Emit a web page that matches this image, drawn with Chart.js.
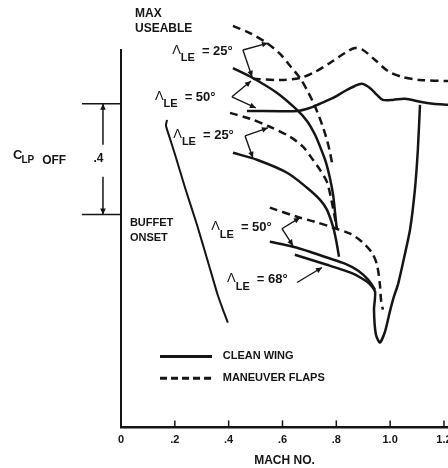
<!DOCTYPE html>
<html>
<head>
<meta charset="utf-8">
<script src="https://cdn.jsdelivr.net/npm/chart.js@4.4.1/dist/chart.umd.min.js"></script>
<style>
  html, body { margin: 0; padding: 0; background: #fff; }
  canvas { display: block; }
</style>
</head>
<body>
<canvas id="chart" width="448" height="468"></canvas>
<script>
// Mach axis ticks
const machTicks = [0, 0.2, 0.4, 0.6, 0.8, 1.0, 1.2];
const machTickLabels = ['0', '.2', '.4', '.6', '.8', '1.0', '1.2'];
const seriesNames = ['CLEAN WING', 'MANEUVER FLAPS'];

// Max useable lift, [Mach, CL]
const maxUse25Clean = [[0.416,1.297],[0.490,1.261],[0.580,1.207],[0.654,1.146],[0.691,1.106],[0.721,1.056],[0.743,1.005],[0.762,0.955],[0.776,0.901],[0.788,0.840],[0.795,0.778],[0.802,0.714]];
const maxUse25Flaps = [[0.416,1.449],[0.479,1.423],[0.542,1.387],[0.591,1.348],[0.628,1.305],[0.665,1.261],[0.691,1.218],[0.713,1.175],[0.732,1.132],[0.750,1.085],[0.765,1.038],[0.776,0.995],[0.786,0.945]];
const maxUse50Clean = [[0.468,1.142],[0.654,1.142],[0.702,1.153],[0.739,1.168],[0.788,1.189],[0.832,1.214],[0.869,1.232],[0.895,1.240],[0.925,1.225],[0.951,1.200],[0.973,1.182],[1.010,1.182],[1.055,1.186],[1.111,1.175],[1.159,1.168],[1.215,1.164]];
const maxUse50Flaps = [[0.490,1.258],[0.591,1.254],[0.665,1.261],[0.721,1.283],[0.776,1.315],[0.832,1.351],[0.869,1.369],[0.899,1.362],[0.944,1.326],[0.992,1.286],[1.044,1.265],[1.111,1.254],[1.215,1.250]];

// Buffet onset lift, [Mach, CL]
const buffet25Clean = [[0.416,0.991],[0.505,0.966],[0.617,0.919],[0.691,0.865],[0.739,0.822],[0.765,0.786],[0.788,0.724],[0.799,0.677],[0.810,0.616]];
const buffet25Flaps = [[0.405,1.135],[0.479,1.114],[0.553,1.085],[0.628,1.049],[0.676,1.013],[0.713,0.966],[0.739,0.930],[0.765,0.886],[0.780,0.829],[0.791,0.775],[0.802,0.721]];
const buffet50Clean = [[0.553,0.670],[0.639,0.652],[0.702,0.634],[0.765,0.613],[0.832,0.591],[0.880,0.566],[0.918,0.533],[0.944,0.497]];
const buffet50Flaps = [[0.553,0.793],[0.654,0.760],[0.721,0.742],[0.788,0.721],[0.851,0.699],[0.895,0.670],[0.932,0.631],[0.951,0.587],[0.962,0.515],[0.966,0.461],[0.973,0.425]];
const buffet68Clean = [[0.646,0.623],[0.765,0.587],[0.862,0.555],[0.918,0.523],[0.944,0.490],[0.940,0.425],[0.947,0.335],[0.962,0.306],[0.981,0.346],[0.999,0.418],[1.014,0.472],[1.029,0.515],[1.048,0.595],[1.074,0.714],[1.092,0.858],[1.103,1.002],[1.111,1.164]];

// Buffet onset boundary line, [Mach, CL]
const buffetOnsetLine = [[0.171,1.110],[0.167,1.090],[0.175,1.063],[0.201,0.984],[0.238,0.865],[0.282,0.732],[0.323,0.598],[0.360,0.476],[0.383,0.414],[0.397,0.378]];

// Sweep labels and their leaders, in [Mach, CL]
const sweepAngles = ['25°', '50°', '25°', '50°', '68°'];
const sweepLabelAt = [[0.190,1.362],[0.126,1.196],[0.194,1.059],[0.335,0.724],[0.394,0.537]];
const sweepLeaders = [
  { from: [0.453,1.362], to: [[0.546,1.387],[0.487,1.265]] },
  { from: [0.412,1.193], to: [[0.483,1.250],[0.501,1.153]] },
  { from: [0.461,1.052], to: [[0.546,1.081],[0.490,0.973]] },
  { from: [0.598,0.717], to: [[0.665,0.757],[0.639,0.656]] },
  { from: [0.654,0.523], to: [[0.747,0.577]] }
];

// Lift-coefficient increment bracket
const clpOffSpan = 0.4;
const clpOffTop = 1.168;

const ink = '#151515';
const FONT = '"Liberation Sans", Arial, Helvetica, sans-serif';

function series(label, pts, dashed, width, tension) {
  return {
    label,
    data: pts.map(([x, y]) => ({ x, y })),
    showLine: true,
    borderColor: ink,
    backgroundColor: ink,
    borderWidth: width,
    borderDash: dashed ? [8, 5] : [],
    pointRadius: 0,
    pointHoverRadius: 0,
    tension,
    fill: false,
    clip: false
  };
}

const datasets = [
  series(seriesNames[0], maxUse25Clean, false, 2.5, 0.3),
  series(seriesNames[1], maxUse25Flaps, true, 2.5, 0.3),
  series(seriesNames[0], maxUse50Clean, false, 2.5, 0.3),
  series(seriesNames[1], maxUse50Flaps, true, 2.5, 0.3),
  series(seriesNames[0], buffet25Clean, false, 2.5, 0.3),
  series(seriesNames[1], buffet25Flaps, true, 2.5, 0.3),
  series(seriesNames[0], buffet50Clean, false, 2.5, 0.3),
  series(seriesNames[1], buffet50Flaps, true, 2.5, 0.3),
  series(seriesNames[0], buffet68Clean, false, 2.5, 0.2),
  series('BUFFET ONSET', buffetOnsetLine, false, 2, 0.2)
];

function arrowHead(ctx, x1, y1, x2, y2) {
  const a = Math.atan2(y2 - y1, x2 - x1);
  const L = 6, W = 2.8;
  ctx.beginPath();
  ctx.moveTo(x2, y2);
  ctx.lineTo(x2 - L * Math.cos(a) + W * Math.sin(a), y2 - L * Math.sin(a) - W * Math.cos(a));
  ctx.lineTo(x2 - L * Math.cos(a) - W * Math.sin(a), y2 - L * Math.sin(a) + W * Math.cos(a));
  ctx.closePath();
  ctx.fill();
}

function arrow(ctx, x1, y1, x2, y2) {
  ctx.beginPath();
  ctx.moveTo(x1, y1);
  ctx.lineTo(x2, y2);
  ctx.stroke();
  arrowHead(ctx, x1, y1, x2, y2);
}

const notesPlugin = {
  id: 'notes',
  afterDraw(chart) {
    const { ctx } = chart;
    const xs = chart.scales.x, ys = chart.scales.y;
    const X = v => xs.getPixelForValue(v);
    const Y = v => ys.getPixelForValue(v);
    ctx.save();
    ctx.strokeStyle = ink;
    ctx.fillStyle = ink;
    ctx.setLineDash([]);

    // inward tick marks on the Mach axis
    ctx.lineWidth = 1.5;
    xs.ticks.forEach(t => {
      const px = X(t.value);
      ctx.beginPath();
      ctx.moveTo(px, Y(0));
      ctx.lineTo(px, Y(0) - 7);
      ctx.stroke();
    });

    // titles
    ctx.textBaseline = 'middle';
    ctx.textAlign = 'left';
    ctx.font = 'bold 12px ' + FONT;
    ctx.fillText('MAX', X(0.052), Y(1.492));
    ctx.fillText('USEABLE', X(0.052), Y(1.438));
    ctx.font = 'bold 11px ' + FONT;
    ctx.fillText('BUFFET', X(0.033), Y(0.739));
    ctx.fillText('ONSET', X(0.033), Y(0.685));

    // sweep labels
    sweepAngles.forEach((ang, i) => {
      const x = X(sweepLabelAt[i][0]), y = Y(sweepLabelAt[i][1]);
      ctx.font = '13px ' + FONT;
      ctx.fillText('Λ', x, y);
      const w1 = ctx.measureText('Λ').width;
      ctx.font = 'bold 11px ' + FONT;
      ctx.fillText('LE', x + w1, y + 8);
      const w2 = ctx.measureText('LE').width;
      ctx.font = 'bold 13px ' + FONT;
      ctx.fillText('= ' + ang, x + w1 + w2 + 7, y + 1);
    });

    // leaders
    ctx.lineWidth = 1.4;
    sweepLeaders.forEach(l => {
      const fx = X(l.from[0]), fy = Y(l.from[1]);
      l.to.forEach(([m, c]) => arrow(ctx, fx, fy, X(m), Y(c)));
    });

    // CL increment bracket
    const bTop = Y(clpOffTop), bBot = Y(clpOffTop - clpOffSpan);
    const bx = X(-0.067);
    ctx.lineWidth = 1.5;
    ctx.beginPath();
    ctx.moveTo(X(-0.145), bTop); ctx.lineTo(X(0), bTop);
    ctx.moveTo(X(-0.145), bBot); ctx.lineTo(X(0), bBot);
    ctx.stroke();
    arrow(ctx, bx, Y(1.020), bx, bTop);
    arrow(ctx, bx, Y(0.905), bx, bBot);
    ctx.font = 'bold 12px ' + FONT;
    ctx.textAlign = 'center';
    ctx.fillText('.' + String(clpOffSpan).split('.')[1], X(-0.0836), Y(0.969));
    ctx.textAlign = 'left';
    ctx.font = 'bold 13px ' + FONT;
    ctx.fillText('C', X(-0.401), Y(0.980));
    ctx.font = 'bold 10px ' + FONT;
    ctx.fillText('LP', X(-0.370), Y(0.964));
    ctx.font = 'bold 12px ' + FONT;
    ctx.fillText('OFF', X(-0.293), Y(0.964));

    // legend
    const legendRows = [[seriesNames[0], []], [seriesNames[1], [7, 4]]];
    const legendY = [0.256, 0.177];
    legendRows.forEach(([name, dash], i) => {
      const y = Y(legendY[i]);
      ctx.lineWidth = 3;
      ctx.setLineDash(dash);
      ctx.beginPath();
      ctx.moveTo(X(0.145), y);
      ctx.lineTo(X(0.338), y);
      ctx.stroke();
      ctx.setLineDash([]);
      ctx.font = 'bold 11px ' + FONT;
      ctx.fillText(name, X(0.378), y);
    });
    ctx.restore();
  }
};

new Chart(document.getElementById('chart'), {
  type: 'scatter',
  data: { datasets },
  options: {
    responsive: false,
    animation: false,
    devicePixelRatio: 1,
    layout: { padding: { left: 121, top: 50, right: 0, bottom: 0 } },
    plugins: { legend: { display: false }, tooltip: { enabled: false } },
    scales: {
      x: {
        type: 'linear',
        min: 0,
        max: 1.215,
        afterBuildTicks: axis => { axis.ticks = machTicks.map(v => ({ value: v })); },
        afterFit: axis => { axis.paddingLeft = 0; axis.paddingRight = 0; },
        ticks: {
          autoSkip: false,
          maxRotation: 0,
          padding: 6,
          color: ink,
          font: { family: FONT, size: 11, weight: 'bold' },
          callback: (v, i) => machTickLabels[i]
        },
        grid: { display: false, drawTicks: false },
        border: { display: true, color: ink, width: 2.5 },
        title: {
          display: true,
          text: 'MACH NO.',
          color: ink,
          font: { family: FONT, size: 12, weight: 'bold' },
          padding: { top: 1, bottom: 0 }
        }
      },
      y: {
        type: 'linear',
        min: 0,
        max: 1.362,
        ticks: { display: false },
        grid: { display: false, drawTicks: false },
        border: { display: true, color: ink, width: 2 }
      }
    }
  },
  plugins: [notesPlugin]
});
</script>
</body>
</html>
